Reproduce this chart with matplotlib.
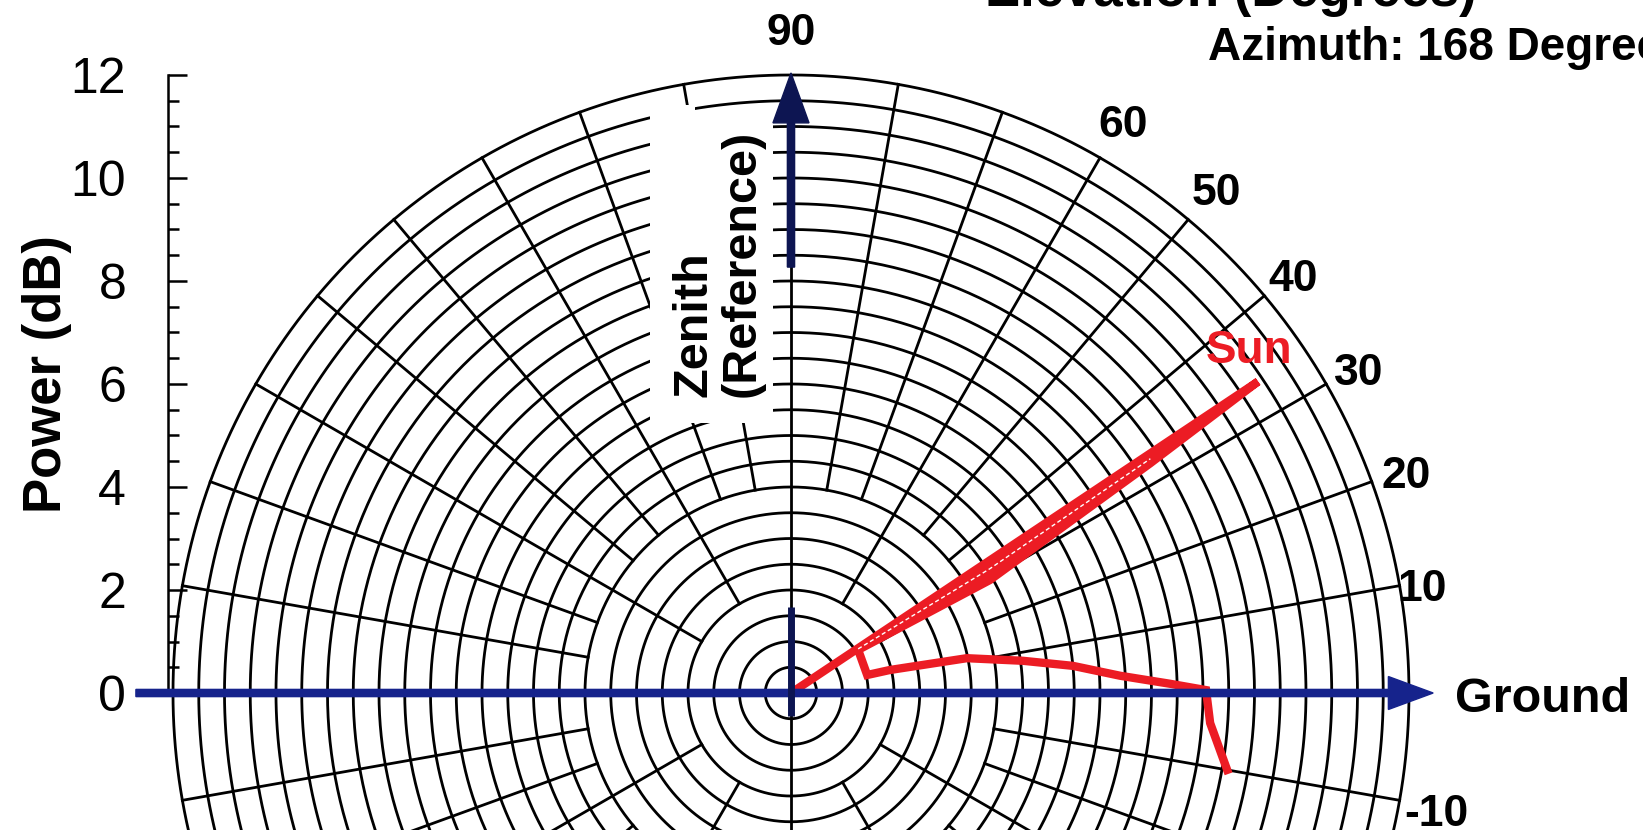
import numpy as np
import matplotlib.pyplot as plt
from matplotlib.patches import Polygon, FancyArrow
from matplotlib.ticker import FixedLocator

plt.rcParams['font.family'] = 'Liberation Sans'

# measured trace: elevation (deg) and power (dB)
pattern_elev = [34.0, 33.7, 32.6, 29.6, 32.7, 13.3, 13.1, 11.2, 7.9, 5.5, 3.0, 1.4, 0.4, -4.1, -10.0]
pattern_db = [0.0, 10.9, 8.28, 4.44, 1.55, 1.52, 1.97, 3.48, 4.55, 5.50, 6.40, 7.36, 8.06, 8.16, 8.60]
# thin gap line inside the sun lobe
gap_elev = [33.3, 32.0, 33.1]
gap_db = [1.56, 4.55, 8.33]

elev_labels = [90, 60, 50, 40, 30, 20, 10, -10]
power_ticks = [0, 2, 4, 6, 8, 10, 12]
max_db = 12
ring_db = np.arange(0.5, max_db + 0.01, 0.5)
spoke_deg = np.arange(0, 360, 10)

RED = '#ec1c24'
NAVY = '#16238c'
DARK_NAVY = '#0d1552'


def polar_xy(elev, db):
    t = np.radians(np.asarray(elev, dtype=float))
    db = np.asarray(db, dtype=float)
    return db * np.cos(t), db * np.sin(t)


def draw_grid(ax):
    t = np.linspace(0, 2 * np.pi, 721)
    for r in ring_db:
        ax.plot(r * np.cos(t), r * np.sin(t), color='k', lw=2.0, zorder=1)
    for a in spoke_deg:
        if a % 90 == 0:
            r0 = 0
        elif a % 30 == 0:
            r0 = 2
        else:
            r0 = 4
        x, y = polar_xy([a, a], [r0, max_db])
        ax.plot(x, y, color='k', lw=2.0, zorder=1)

    # white patch behind the zenith label
    box = [(-2.738, 11.417), (-1.864, 11.417), (-1.864, 11.262),
           (-0.350, 11.262), (-0.350, 5.243), (-2.738, 5.243)]
    ax.add_patch(Polygon(box, closed=True, fc='white', ec='none', zorder=2))


fig = plt.figure(figsize=(16.43, 8.30), dpi=100)
ax = fig.add_axes([0, 0, 1, 1])
ax.set_xlim(-15.359, 16.544)
ax.set_ylim(-2.660, 13.456)

for s in ['top', 'right', 'bottom']:
    ax.spines[s].set_visible(False)
ax.spines['left'].set_position(('data', -12.10))
ax.spines['left'].set_bounds(0, 12)
ax.spines['left'].set_linewidth(1.8)
ax.set_xticks([])
ax.set_yticks(power_ticks)
ax.yaxis.set_minor_locator(FixedLocator(np.arange(0, 12.01, 0.5)))
ax.tick_params(axis='y', which='major', direction='in', length=14, width=1.8,
               pad=30, labelsize=36)
ax.tick_params(axis='y', which='minor', direction='in', length=8, width=1.8)

draw_grid(ax)

# trace
px, py = polar_xy(pattern_elev, pattern_db)
ax.fill(px[:5], py[:5], color=RED, lw=0, zorder=3)
ax.plot(px, py, color=RED, lw=6, solid_joinstyle='miter', zorder=3)
gx, gy = polar_xy(gap_elev, gap_db)
ax.plot(gx, gy, color='white', lw=1, ls=(0, (3, 2)), zorder=4)

# axes arrows
ax.add_patch(FancyArrow(-12.72, 0, 25.19, 0, width=0.14, head_width=0.64,
                        head_length=0.87, length_includes_head=True,
                        color=NAVY, zorder=5))
ax.add_patch(FancyArrow(0, 8.27, 0, 3.77, width=0.14, head_width=0.70,
                        head_length=0.97, length_includes_head=True,
                        color=DARK_NAVY, zorder=5))
ax.plot([0, 0], [-0.45, 1.67], color=DARK_NAVY, lw=5, solid_capstyle='butt', zorder=5)

label_r = {90: 12.95, 60: 12.9, 50: 12.85, 10: 12.45}
for e in elev_labels:
    lx, ly = polar_xy(e, label_r.get(e, 12.72))
    ax.text(lx, ly - 0.15, str(e), fontsize=32, fontweight='bold', ha='center', va='center')

ax.text(-1.417, 5.748, 'Zenith\n(Reference)', rotation=90, ha='center', va='bottom',
        multialignment='left', fontsize=35, fontweight='bold', linespacing=1.1, zorder=6)
ax.text(12.89, -0.37, 'Ground', fontsize=35, fontweight='bold', ha='left', va='baseline')
ax.text(8.10, 12.29, 'Azimuth: 168 Degrees', fontsize=33, fontweight='bold',
        ha='left', va='baseline')
ax.text(8.54, 13.34, 'Elevation (Degrees)', fontsize=38, fontweight='bold',
        ha='center', va='baseline')
ax.text(8.89, 6.64, 'Sun', fontsize=33, fontweight='bold', color=RED,
        ha='center', va='center', zorder=6)
fig.text(0.0286, 0.549, 'Power (dB)', rotation=90, fontsize=38, fontweight='bold',
         ha='center', va='center')

fig.savefig('out.png', dpi=100)
